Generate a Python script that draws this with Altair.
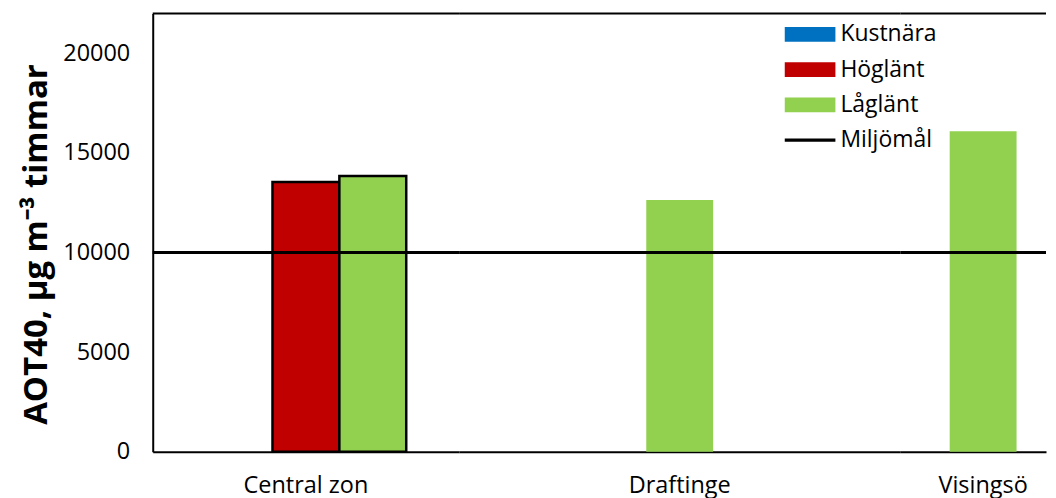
import altair as alt
import pandas as pd

# ---- data ----
sites = ["Central zon", "Draftinge", "Visingsö"]
series = ["Kustnära", "Höglänt", "Låglänt"]
bar_site = ["Central zon", "Central zon", "Draftinge", "Visingsö"]
bar_series = ["Höglänt", "Låglänt", "Låglänt", "Låglänt"]
bar_value = [13540, 13840, 12630, 16090]
target_label = "Miljömål"
target_value = 10000
y_ticks = [0, 5000, 10000, 15000, 20000]
y_max = 22000
series_colors = ["#0070C0", "#C00000", "#92D050"]
target_color = "#000000"

df = pd.DataFrame({"site": bar_site, "serie": bar_series, "value": bar_value})
legend_df = pd.DataFrame({"serie": series + [target_label],
                          "value": [None] * (len(series) + 1)})
target_df = pd.DataFrame({"value": [target_value]})
top_df = pd.DataFrame({"value": [y_max]})

FONT = "Open Sans"
H = 439
BAR_W = 67
RECT = "M-1,-0.29H1V0.29H-1Z"
LINE = "M-1,-0.06H1V0.06H-1Z"

y_scale = alt.Scale(domain=[0, y_max], nice=False, zero=True)
fill_scale = alt.Scale(domain=series, range=series_colors)
color_scale = alt.Scale(domain=series + [target_label], range=series_colors + [target_color])
shape_scale = alt.Scale(domain=series + [target_label], range=[RECT, RECT, RECT, LINE])

y_axis = alt.Axis(values=y_ticks, format="d", title="AOT40, µg m⁻³ timmar", titleFont=FONT,
                  titleFontSize=33, titleFontWeight="bold", titleColor="black",
                  titlePadding=9, titleY=231, labelFont=FONT, labelFontSize=23.5,
                  labelColor="black", labelPadding=23, ticks=False, domainColor="black",
                  domainWidth=2, grid=False)

def x_axis():
    return alt.Axis(title=None, labelFont=FONT, labelFontSize=23.5, labelColor="black",
                    labelPadding=22, labelAngle=0, ticks=False, domainColor="black",
                    domainWidth=2, grid=False)


def rules(axis):
    tgt = alt.Chart(target_df).mark_rule(color="black", strokeWidth=3).encode(
        y=alt.Y("value:Q", scale=y_scale, axis=axis))
    top = alt.Chart(top_df).mark_rule(color="black", strokeWidth=2).encode(
        y=alt.Y("value:Q", scale=y_scale, axis=axis))
    return tgt, top


# panel 1: Central zon (three series slots)
bars1 = alt.Chart(df).transform_filter(alt.datum.site == sites[0]).mark_bar(
    stroke="black", strokeWidth=2.5).encode(
    x=alt.X("site:N", scale=alt.Scale(domain=[sites[0]], paddingInner=0, paddingOuter=0.2637),
            axis=x_axis()),
    xOffset=alt.XOffset("serie:N", scale=alt.Scale(domain=series, paddingInner=0, paddingOuter=0)),
    y=alt.Y("value:Q", scale=y_scale, axis=y_axis),
    fill=alt.Fill("serie:N", scale=fill_scale, legend=None),
)
leg = alt.Chart(legend_df).mark_point(filled=True, size=2601, opacity=1).encode(
    y=alt.Y("value:Q", scale=y_scale, axis=y_axis),
    color=alt.Color("serie:N", scale=color_scale,
                    legend=alt.Legend(orient="none", legendX=633, legendY=10, title=None,
                                      padding=0, labelFont=FONT, labelFontSize=23,
                                      labelColor="black", symbolSize=2601,
                                      symbolStrokeWidth=0, symbolOpacity=1, labelOffset=5,
                                      clipHeight=22, rowPadding=12.3)),
    shape=alt.Shape("serie:N", scale=shape_scale),
)
t1, tp1 = rules(y_axis)
p1 = alt.layer(bars1, t1, tp1, leg).properties(width=307, height=H)

# panel 2: Draftinge
bars2 = alt.Chart(df).transform_filter(alt.datum.site == sites[1]).mark_bar(width=BAR_W).encode(
    x=alt.X("site:N", scale=alt.Scale(domain=[sites[1]], paddingInner=0, paddingOuter=0),
            axis=x_axis()),
    y=alt.Y("value:Q", scale=y_scale, axis=None),
    fill=alt.Fill("serie:N", scale=fill_scale, legend=None),
)
t2, tp2 = rules(None)
p2 = alt.layer(bars2, t2, tp2).properties(width=442, height=H)

# panel 3: Visingsö
bars3 = alt.Chart(df).transform_filter(alt.datum.site == sites[2]).mark_bar(width=BAR_W).encode(
    x=alt.X("site:N", scale=alt.Scale(domain=[sites[2]], paddingInner=0, paddingOuter=0.5,
                                      align=0.637),
            axis=x_axis()),
    y=alt.Y("value:Q", scale=y_scale, axis=None),
    fill=alt.Fill("serie:N", scale=fill_scale, legend=None),
)
t3, tp3 = rules(None)
p3 = alt.layer(bars3, t3, tp3).properties(width=146, height=H)

chart = alt.hconcat(p1, p2, p3, spacing=0, bounds="flush").resolve_scale(
    x="independent", y="shared", fill="shared", color="shared"
).properties(
    autosize=alt.AutoSizeParams(type="pad"),
    padding={"left": 12, "top": 4, "right": 0, "bottom": 12},
    background="white",
).configure_view(stroke=None)

chart.save("out.html", embed_options={"renderer": "svg", "actions": False})
